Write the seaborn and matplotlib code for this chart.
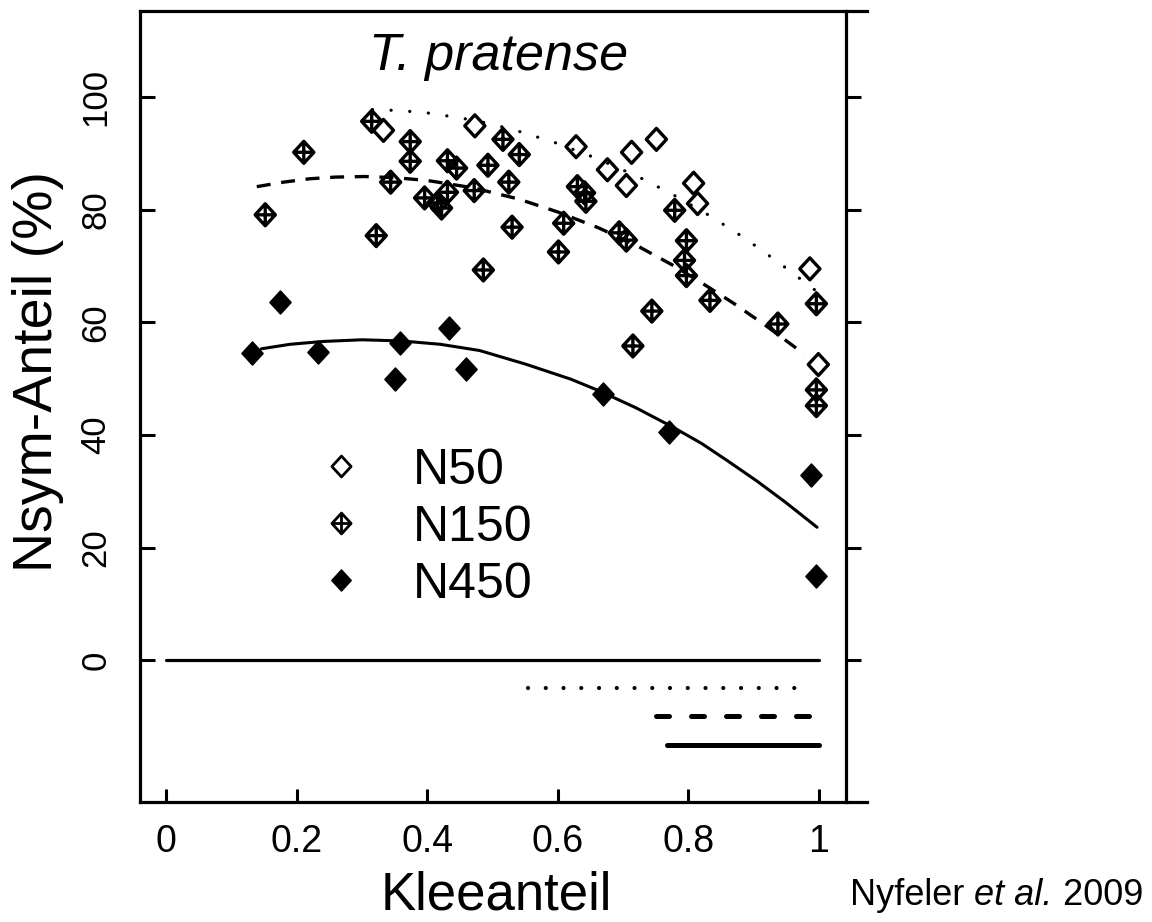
import numpy as np
import pandas as pd
import matplotlib
matplotlib.use("Agg")
import matplotlib.pyplot as plt
from matplotlib.path import Path
from matplotlib.lines import Line2D
from matplotlib import font_manager
import seaborn as sns

# ---------------- data ----------------
n50_x = [0.333, 0.473, 0.628, 0.676, 0.705, 0.713, 0.751, 0.808, 0.814, 0.986, 0.999]
n50_y = [94.1, 94.9, 91.2, 87.1, 84.3, 90.2, 92.5, 84.7, 81.1, 69.5, 52.5]

n150_x = [0.315, 0.374, 0.211, 0.516, 0.541, 0.374, 0.431, 0.445, 0.493, 0.344,
          0.525, 0.472, 0.431, 0.396, 0.416, 0.422, 0.630, 0.641, 0.643, 0.779,
          0.152, 0.322, 0.530, 0.609, 0.694, 0.705, 0.797, 0.601, 0.794, 0.797,
          0.486, 0.996, 0.833, 0.744, 0.937, 0.715, 0.996, 0.996]
n150_y = [95.7, 92.1, 90.2, 92.5, 89.8, 88.6, 88.7, 87.4, 87.9, 84.9,
          84.9, 83.4, 83.1, 82.1, 81.2, 80.3, 84.1, 83.0, 81.5, 79.9,
          79.1, 75.4, 76.9, 77.6, 75.9, 74.6, 74.5, 72.5, 71.0, 68.3,
          69.3, 63.3, 63.9, 62.0, 59.7, 55.8, 48.0, 45.2]

n450_x = [0.174, 0.433, 0.132, 0.233, 0.359, 0.350, 0.459, 0.669, 0.771, 0.987, 0.996]
n450_y = [63.7, 59.0, 54.5, 54.8, 56.3, 49.9, 51.7, 47.3, 40.6, 32.9, 14.9]

# fitted curves
curve50_x = [0.316, 0.36, 0.40, 0.44, 0.476, 0.53, 0.594, 0.66, 0.726, 0.776, 0.826,
             0.87, 0.91, 0.95, 0.993]
curve50_y = [97.8, 97.6, 97.2, 96.5, 95.8, 94.3, 92.0, 89.1, 85.7, 82.7, 79.4,
             76.2, 73.0, 69.6, 65.8]
curve150_x = [0.139, 0.18, 0.22, 0.26, 0.304, 0.35, 0.40, 0.47, 0.540, 0.60, 0.662,
              0.72, 0.78, 0.83, 0.869, 0.92, 0.978]
curve150_y = [84.1, 84.9, 85.5, 85.8, 85.9, 85.7, 85.2, 83.9, 81.9, 79.6, 76.8,
              73.7, 69.9, 66.3, 63.4, 59.3, 54.3]
curve450_x = [0.146, 0.19, 0.24, 0.30, 0.36, 0.42, 0.48, 0.55, 0.62, 0.662, 0.72,
              0.776, 0.82, 0.86, 0.905, 0.948, 0.997]
curve450_y = [55.3, 56.1, 56.6, 56.9, 56.7, 56.1, 55.0, 52.6, 49.9, 47.9, 44.8,
              41.4, 38.5, 35.4, 31.8, 28.1, 23.6]

# range bars under the zero line
zero_x = [0.0, 1.0]
zero_y = [0.0, 0.0]
bar50_x = [0.555, 0.986]
bar50_y = [-5, -5]
bar150_x = [0.750, 0.986]
bar150_y = [-10, -10]
bar450_x = [0.767, 1.0]
bar450_y = [-15, -15]

x_ticks = [0, 0.2, 0.4, 0.6, 0.8, 1]
x_ticklabels = ["0", "0.2", "0.4", "0.6", "0.8", "1"]
y_ticks = [0, 20, 40, 60, 80, 100]
y_ticklabels = ["0", "20", "40", "60", "80", "100"]
legend_labels = ["N50", "N150", "N450"]

# ---------------- style ----------------
sns.set_theme(style="white")
FONT = "Liberation Sans"
plt.rcParams["font.family"] = [FONT, "DejaVu Sans"]
for k in ["text.color", "axes.labelcolor", "xtick.color", "ytick.color", "axes.edgecolor"]:
    plt.rcParams[k] = "black"

fig = plt.figure(figsize=(11.52, 9.22), dpi=100)
ax = fig.add_axes([140 / 1152, 1 - 802 / 922, 727 / 1152, 791 / 922])
ax.set_xlim(-0.0398, 1.0735)
ax.set_ylim(-25.2, 115.3)

# markers (R-style open diamond and diamond-plus)
w = 0.92
diamond = Path([(0, 1), (w, 0), (0, -1), (-w, 0), (0, 1)],
               [Path.MOVETO, Path.LINETO, Path.LINETO, Path.LINETO, Path.CLOSEPOLY])
diamond_plus = Path([(0, 1), (w, 0), (0, -1), (-w, 0), (0, 1),
                     (0, 1), (0, -1), (-w, 0), (w, 0)],
                    [Path.MOVETO, Path.LINETO, Path.LINETO, Path.LINETO, Path.CLOSEPOLY,
                     Path.MOVETO, Path.LINETO, Path.MOVETO, Path.LINETO])

# curves
sns.lineplot(x=curve50_x, y=curve50_y, ax=ax, color="black", lw=2.3,
             linestyle=(0, (0.05, 5.8)), dash_capstyle="round", sort=False, estimator=None)
sns.lineplot(x=curve150_x, y=curve150_y, ax=ax, color="black", lw=2.4,
             linestyle=(0, (4.2, 3.2)), sort=False, estimator=None)
sns.lineplot(x=curve450_x, y=curve450_y, ax=ax, color="black", lw=2.2,
             sort=False, estimator=None)

# points
sns.scatterplot(x=n50_x, y=n50_y, ax=ax, marker=diamond, s=250,
                facecolor="none", edgecolor="black", linewidth=2.4, zorder=3)
sns.scatterplot(x=n150_x, y=n150_y, ax=ax, marker=diamond_plus, s=250,
                facecolor="none", edgecolor="black", linewidth=2.4, zorder=3)
sns.scatterplot(x=n450_x, y=n450_y, ax=ax, marker=diamond, s=270,
                facecolor="black", edgecolor="black", linewidth=1.2, zorder=3)

# zero line and range bars
sns.lineplot(x=zero_x, y=zero_y, ax=ax, color="black", lw=2.3, estimator=None)
sns.lineplot(x=bar50_x, y=bar50_y, ax=ax, color="black", lw=3.0,
             linestyle=(0, (0.01, 4.25)), dash_capstyle="round", estimator=None)
sns.lineplot(x=bar150_x, y=bar150_y, ax=ax, color="black", lw=3.6,
             linestyle=(0, (2.6, 4.4)), dash_capstyle="round", estimator=None)
sns.lineplot(x=bar450_x, y=bar450_y, ax=ax, color="black", lw=3.6,
             solid_capstyle="round", estimator=None)

# axes / spines
for side in ["left", "top", "bottom"]:
    ax.spines[side].set_linewidth(2.3)
ax.spines["right"].set_visible(False)

ax.set_xticks(x_ticks)
ax.set_xticklabels(x_ticklabels, fontsize=27)
ax.set_yticks(y_ticks)
ax.set_yticklabels(y_ticklabels, fontsize=25, rotation=90, va="center")
ax.tick_params(axis="x", direction="in", length=9.5, width=2.2, pad=16,
               bottom=True, top=False)
ax.tick_params(axis="y", direction="in", length=11, width=2.2, pad=20,
               left=True, right=False)

sec = ax.secondary_yaxis((846 - 140) / 727)
sec.spines["right"].set_linewidth(2.3)
sec.tick_params(axis="y", direction="out", length=11, width=2.2, labelright=False, right=True)
sec.set_yticks(y_ticks)
sec.set_yticklabels([])

ax.set_xlabel("Kleeanteil", fontsize=38)
ax.xaxis.set_label_coords(0.49, -0.087)
ax.set_ylabel("Nsym-Anteil (%)", fontsize=40)
ax.yaxis.set_label_coords(-0.104, 0.544)

ax.text(0.51, 104.8, "T. pratense", fontstyle="italic",
        fontsize=37.5, ha="center", va="baseline")

# legend
handles = [
    Line2D([], [], linestyle="none", marker=diamond, markersize=15,
           markerfacecolor="none", markeredgecolor="black", markeredgewidth=2.0),
    Line2D([], [], linestyle="none", marker=diamond_plus, markersize=15,
           markerfacecolor="none", markeredgecolor="black", markeredgewidth=2.0),
    Line2D([], [], linestyle="none", marker=diamond, markersize=15,
           markerfacecolor="black", markeredgecolor="black", markeredgewidth=1.2),
]
ax.legend(handles, legend_labels, loc="upper left", bbox_to_anchor=(0.2415, 0.448),
          frameon=False, borderpad=0, borderaxespad=0, handlelength=1.0,
          handletextpad=0.95, labelspacing=0.22, fontsize=36)

# citation
t1 = fig.text(850 / 1152, 1 - 905 / 922, "Nyfeler ", fontsize=26,
              ha="left", va="baseline")
a2 = ax.annotate("et al.", xy=(1, 0), xycoords=t1, fontsize=26,
                 fontstyle="italic", va="bottom", ha="left", annotation_clip=False)
ax.annotate(" 2009", xy=(1, 0), xycoords=a2, fontsize=26,
            va="bottom", ha="left", annotation_clip=False)

fig.savefig("out.png", dpi=100, facecolor="white")
